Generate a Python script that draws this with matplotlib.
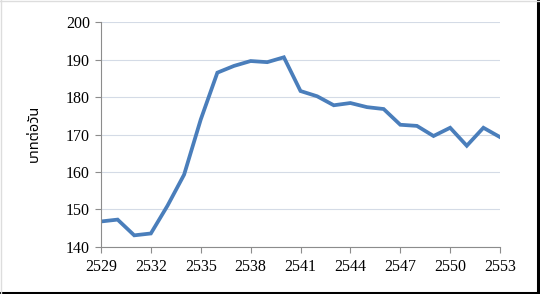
import matplotlib
matplotlib.use("Agg")
import matplotlib.pyplot as plt
from matplotlib.lines import Line2D

years = list(range(2529, 2554))
wage = [146.8, 147.3, 143.1, 143.6, 151.0, 159.3, 174.0, 186.5, 188.3, 189.6,
        189.3, 190.6, 181.6, 180.2, 177.8, 178.4, 177.3, 176.8, 172.6, 172.3,
        169.6, 171.8, 167.0, 171.8, 169.3]
xticks = list(range(2529, 2554, 3))
yticks = list(range(140, 201, 10))
ylabel = "บาทต่อวัน"

fig = plt.figure(figsize=(5.4, 2.94), dpi=100)
ax = fig.add_axes([0.187, 0.160, 0.739, 0.765])
ax.plot(years, wage, color="#4a7ebb", lw=2.7, solid_joinstyle="miter")
ax.set_xlim(2529, 2553)
ax.set_ylim(140, 200)
ax.set_xticks(xticks)
ax.set_yticks(yticks)
ax.grid(axis="y", color="#d4dbe6", lw=0.8)
ax.set_axisbelow(True)
for s in ("top", "right"):
    ax.spines[s].set_visible(False)
for s in ("left", "bottom"):
    ax.spines[s].set_color("#8c8c8c")
ax.tick_params(length=4, color="#8c8c8c", labelsize=11.5)
ax.tick_params(axis="x", pad=5)
ax.tick_params(axis="y", pad=4)
for lab in ax.get_xticklabels() + ax.get_yticklabels():
    lab.set_family("Liberation Serif")
ax.set_ylabel(ylabel, fontsize=10.5,
              family=["Noto Sans Thai", "Loma", "Garuda", "Tlwg Typo", "Noto Sans", "DejaVu Sans"])
ax.yaxis.set_label_coords(-0.148, 0.507)

# frame round the picture
fig.add_artist(Line2D([0, 1], [0.003, 0.003], color="black", lw=2.2, transform=fig.transFigure))
fig.add_artist(Line2D([0.997, 0.997], [0, 1], color="black", lw=2.2, transform=fig.transFigure))
fig.add_artist(Line2D([0, 1], [0.998, 0.998], color="#dddddd", lw=1, transform=fig.transFigure))
fig.add_artist(Line2D([0.002, 0.002], [0, 1], color="#dddddd", lw=1, transform=fig.transFigure))

fig.savefig("out.png", dpi=100)
